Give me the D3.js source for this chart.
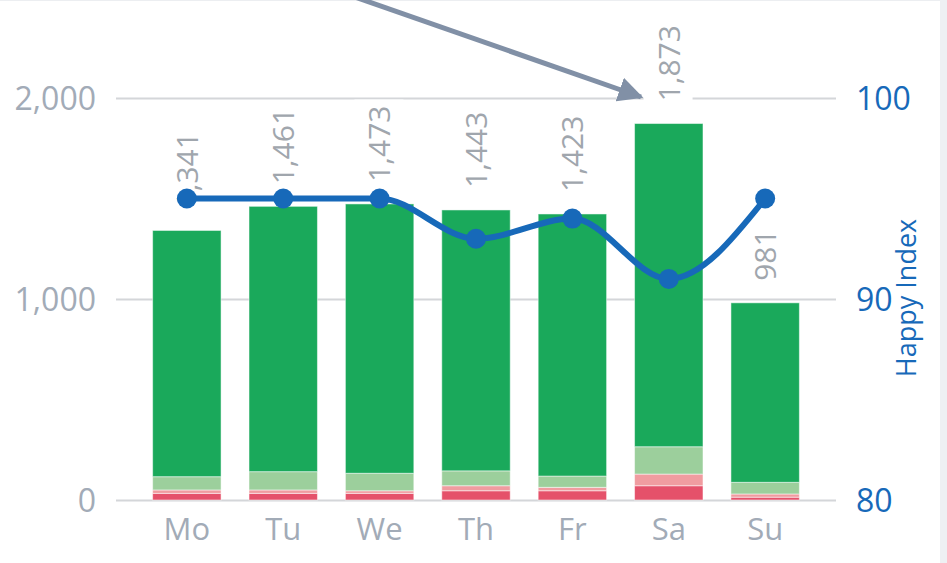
<!DOCTYPE html>
<html>
<head>
<meta charset="utf-8">
<script src="https://cdn.jsdelivr.net/npm/d3@7"></script>
<style>
  body { margin: 0; background: #fff; }
  text { font-family: "Open Sans", sans-serif; }
</style>
</head>
<body>
<div id="graph"></div>
<script>
// data
const days = ["Mo", "Tu", "We", "Th", "Fr", "Sa", "Su"];
const veryUnhappy = [33, 33, 33, 46, 46, 71, 14];
const unhappy = [17, 17, 13, 25, 17, 58, 16];
const happy = [66, 91, 87, 74, 56, 136, 58];
const veryHappy = [1225, 1320, 1340, 1298, 1304, 1608, 893];
const happyIndex = [95, 95, 95, 93, 94, 91, 95];
const leftTicks = [0, 1000, 2000];
const rightTicks = [80, 90, 100];

const seriesNames = ["veryUnhappy", "unhappy", "happy", "veryHappy"];
const seriesColors = ["#e5516a", "#f09ca0", "#9ccf9c", "#1aa95b"];

const svgWidth = 947;
const svgHeight = 563;

const table = days.map((d, i) => ({
    day: d,
    veryUnhappy: veryUnhappy[i],
    unhappy: unhappy[i],
    happy: happy[i],
    veryHappy: veryHappy[i],
    index: happyIndex[i]
}));
const totals = table.map(d => d.veryUnhappy + d.unhappy + d.happy + d.veryHappy);

const svg = d3.select('#graph')
    .append('svg')
    .attr('width', svgWidth)
    .attr('height', svgHeight);

// page edges seen in the screenshot
svg.append('rect')
    .attr('x', 940).attr('y', 0)
    .attr('width', 7).attr('height', svgHeight)
    .attr('fill', '#eef0f3');
svg.append('line')
    .attr('x1', 0).attr('x2', 940)
    .attr('y1', 0.5).attr('y2', 0.5)
    .attr('stroke', '#eceef1');

// scales
const x = d3.scaleBand()
    .domain(days)
    .range([116, 836])
    .paddingInner(0.29)
    .paddingOuter(0.38);

const y = d3.scaleLinear()
    .domain([0, 2000])
    .range([500, 98]);

const y2 = d3.scaleLinear()
    .domain([80, 100])
    .range([500, 98]);

// gridlines + left labels
const leftAxis = svg.append('g')
    .attr('transform', 'translate(116,0)')
    .call(d3.axisLeft(y).tickValues(leftTicks).tickSize(-720).tickPadding(20)
        .tickFormat(d3.format(',')));
leftAxis.select('.domain').remove();
leftAxis.selectAll('line').attr('stroke', '#d4d6d9').attr('stroke-width', 2);
leftAxis.selectAll('text')
    .attr('fill', '#a2abb7')
    .attr('font-size', 32)
    .attr('dy', '0.36em');

// right axis
const rightAxis = svg.append('g')
    .attr('transform', 'translate(836,0)')
    .call(d3.axisRight(y2).tickValues(rightTicks).tickSize(0).tickPadding(20));
rightAxis.select('.domain').remove();
rightAxis.selectAll('text')
    .attr('fill', '#1769b9')
    .attr('font-size', 32)
    .attr('dy', '0.36em');

svg.append('text')
    .attr('transform', 'translate(916,298) rotate(-90)')
    .attr('text-anchor', 'middle')
    .attr('fill', '#1769b9')
    .attr('font-size', 27)
    .text('Happy Index');

// x axis labels
const bottomAxis = svg.append('g')
    .attr('transform', 'translate(0,500)')
    .call(d3.axisBottom(x).tickSize(0).tickPadding(18));
bottomAxis.select('.domain').remove();
bottomAxis.selectAll('text')
    .attr('fill', '#a2abb7')
    .attr('font-size', 31)
    .attr('dy', '0.71em');

// stacked bars
const stack = d3.stack().keys(seriesNames)(table);

svg.append('g')
    .selectAll('g')
    .data(stack)
    .enter()
    .append('g')
    .attr('fill', (d, i) => seriesColors[i])
    .selectAll('rect')
    .data(d => d)
    .enter()
    .append('rect')
    .attr('x', d => x(d.data.day))
    .attr('y', d => y(d[1]))
    .attr('width', x.bandwidth())
    .attr('height', d => y(d[0]) - y(d[1]))
    .attr('stroke', '#ffffff')
    .attr('stroke-opacity', 0.5)
    .attr('stroke-width', 1);

// total labels (rotated, white box behind)
const labels = svg.append('g')
    .selectAll('g')
    .data(totals)
    .enter()
    .append('g')
    .attr('transform', (d, i) => `translate(${x(days[i]) + x.bandwidth() / 2},${y(d) - 22}) rotate(-90)`);

labels.append('text')
    .attr('x', 0)
    .attr('y', 0)
    .attr('dy', '0.36em')
    .attr('fill', '#a0a6ad')
    .attr('font-size', 30)
    .text(d => d3.format(',')(d));

labels.each(function() {
    const g = d3.select(this);
    const b = g.select('text').node().getBBox();
    g.insert('rect', 'text')
        .attr('x', b.x - 6)
        .attr('y', b.y - 4)
        .attr('width', b.width + 12)
        .attr('height', b.height + 8)
        .attr('fill', '#ffffff');
});

// happy index line
const line = d3.line()
    .x(d => x(d.day) + x.bandwidth() / 2)
    .y(d => y2(d.index))
    .curve(d3.curveMonotoneX);

svg.append('path')
    .datum(table)
    .attr('d', line)
    .attr('fill', 'none')
    .attr('stroke', '#1769b9')
    .attr('stroke-width', 6);

svg.selectAll('.dot')
    .data(table)
    .enter()
    .append('circle')
    .attr('class', 'dot')
    .attr('cx', d => x(d.day) + x.bandwidth() / 2)
    .attr('cy', d => y2(d.index))
    .attr('r', 10)
    .attr('fill', '#1769b9');

// annotation arrow pointing at Saturday
const defs = svg.append('defs');
defs.append('marker')
    .attr('id', 'head')
    .attr('viewBox', '0 0 10 10')
    .attr('refX', 9)
    .attr('refY', 5)
    .attr('markerWidth', 5)
    .attr('markerHeight', 5)
    .attr('orient', 'auto')
    .append('path')
    .attr('d', 'M0,0 L10,5 L0,10 z')
    .attr('fill', '#8190a6');

svg.append('line')
    .attr('x1', 352)
    .attr('y1', -4)
    .attr('x2', 641)
    .attr('y2', 97)
    .attr('stroke', '#8190a6')
    .attr('stroke-width', 5)
    .attr('marker-end', 'url(#head)');
</script>
</body>
</html>
